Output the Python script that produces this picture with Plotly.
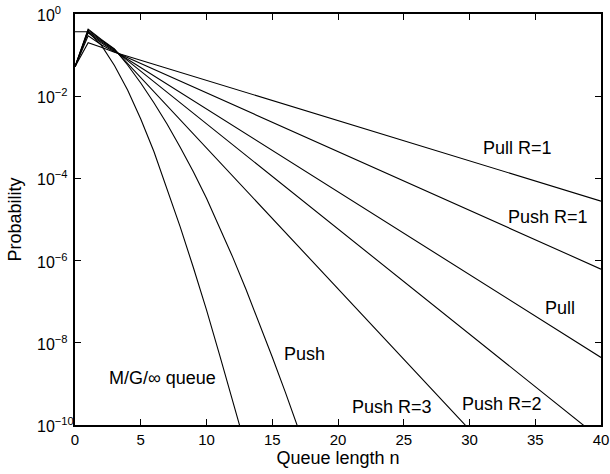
import plotly.graph_objects as go

# Queue-length distributions P(n) for the different schemes
n_mg = [0, 1, 2, 3, 4, 5, 6, 7, 8, 9, 10, 11, 12, 13]
p_mg = [0.37, 0.37, 0.174, 0.056, 0.0141, 2.8e-3, 4.5e-4, 5.6e-5, 6.6e-6,
        6.8e-7, 6.3e-8, 5.0e-9, 4.0e-10, 2.8e-11]

n_push = [0, 1, 2, 3, 4, 5, 6, 7, 8, 9, 10, 11, 12, 13, 14, 15, 16, 17, 18]
p_push = [0.052, 0.43, 0.24, 0.141, 0.0575, 0.0209, 6.9e-3, 2.1e-3, 5.75e-4,
          1.45e-4, 3.3e-5, 6.6e-6, 1.2e-6, 2.0e-7, 3.1e-8, 4.5e-9,
          6.2e-10, 8.1e-11, 1e-11]

n_push_r3 = [0, 1, 2, 3, 31]
p_push_r3 = [0.052, 0.41, 0.229, 0.138, 3.5e-11]

n_push_r2 = [0, 1, 2, 3, 40]
p_push_r2 = [0.052, 0.38, 0.214, 0.132, 4.5e-11]

n_pull = [0, 1, 2, 3, 40]
p_pull = [0.052, 0.347, 0.20, 0.126, 4.4e-9]

n_push_r1 = [0, 1, 2, 3, 40]
p_push_r1 = [0.052, 0.295, 0.178, 0.121, 6.2e-7]

n_pull_r1 = [0, 1, 2, 3, 40]
p_pull_r1 = [0.052, 0.20, 0.155, 0.1175, 2.8e-5]

series = [
    (n_mg, p_mg), (n_push, p_push), (n_push_r3, p_push_r3),
    (n_push_r2, p_push_r2), (n_pull, p_pull), (n_push_r1, p_push_r1),
    (n_pull_r1, p_pull_r1),
]

# Curve labels and where they sit (x in n, y as log10 probability)
curve_labels = ["Pull R=1", "Push R=1", "Pull", "Push R=2", "Push R=3",
                "Push", "M/G/\u221e queue"]
label_pos = [(33.65, -3.25), (35.97, -4.95), (36.9, -7.15), (32.5, -9.5),
             (24.08, -9.55), (17.47, -8.28), (6.65, -8.85)]

x_ticks = [0, 5, 10, 15, 20, 25, 30, 35, 40]
y_exponents = [0, -2, -4, -6, -8, -10]

FONT = "Liberation Sans, Arial, Helvetica, sans-serif"

fig = go.Figure()
for xs, ys in series:
    fig.add_trace(go.Scatter(x=xs, y=ys, mode="lines",
                             line=dict(color="black", width=1.1),
                             showlegend=False, hoverinfo="skip"))

annotations = []
for text, (ax, ay) in zip(curve_labels, label_pos):
    annotations.append(dict(x=ax, y=ay, xref="x", yref="y", text=text,
                            showarrow=False, xanchor="center",
                            yanchor="middle",
                            font=dict(size=18, color="black", family=FONT)))

# Left-aligned power-of-ten labels for the y axis
for e in y_exponents:
    annotations.append(dict(x=-40 / 526, y=e, xref="paper", yref="y",
                            text="10<sup>\u2212%d</sup>" % (-e) if e else "10<sup>0</sup>",
                            showarrow=False, xanchor="left", yanchor="middle",
                            font=dict(size=16, color="black", family=FONT)))

fig.update_layout(
    width=610, height=474,
    margin=dict(l=75, r=9, t=14, b=49),
    paper_bgcolor="white", plot_bgcolor="white",
    font=dict(family=FONT, color="black", size=15),
    annotations=annotations,
    xaxis=dict(
        range=[0, 40], tickvals=x_ticks, ticks="inside", ticklen=6,
        tickwidth=1, tickcolor="black",
        showline=True, linecolor="black", linewidth=1.5, mirror="ticks",
        showgrid=False, zeroline=False,
        tickfont=dict(size=15, family=FONT),
        title=dict(text="Queue length n", font=dict(size=18, family=FONT),
                   standoff=2),
        automargin=False,
    ),
    yaxis=dict(
        type="log", range=[-10, 0],
        tickvals=[10.0 ** e for e in y_exponents], showticklabels=False,
        ticks="inside", ticklen=6, tickwidth=1, tickcolor="black",
        showline=True, linecolor="black", linewidth=1.5, mirror="ticks",
        showgrid=False, zeroline=False,
        title=dict(text="Probability", font=dict(size=18, family=FONT),
                   standoff=47),
        automargin=False,
    ),
)

fig.write_html("out.html")
